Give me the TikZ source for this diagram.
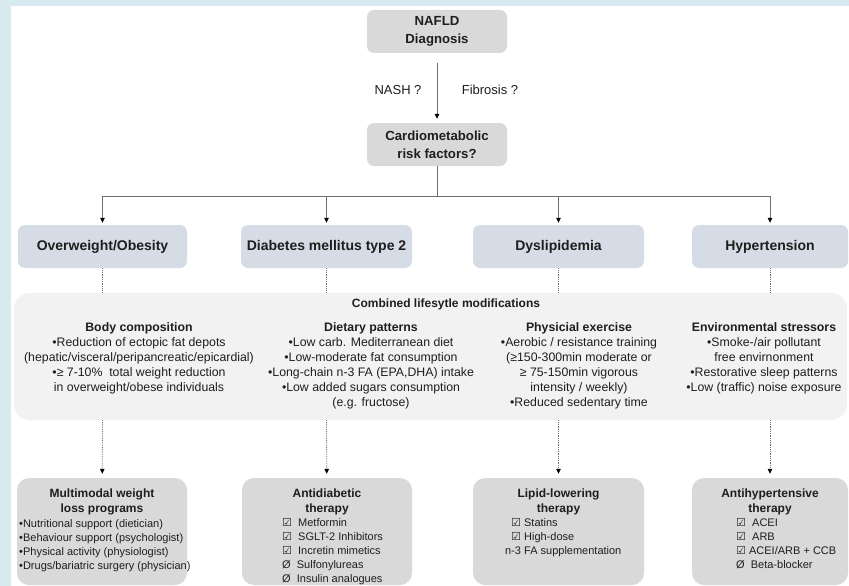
\documentclass[tikz,border=0pt]{standalone}
\usepackage{fontspec}
\setmainfont{Liberation Sans}
\newfontfamily\symfont{DejaVu Sans}
\usetikzlibrary{arrows.meta}
\usetikzlibrary{positioning}
\definecolor{framebg}{HTML}{D6EAF0}
\definecolor{boxgray}{HTML}{D9D9D9}
\definecolor{riskblue}{HTML}{D6DCE5}
\definecolor{lifegray}{HTML}{F2F2F2}
\definecolor{linegray}{HTML}{6E6E6E}
\definecolor{txt}{HTML}{1E1E1E}
\newcommand{\ckbox}{{\symfont\fontsize{11}{12}\selectfont ☑}}
\tikzset{
top box/.style = { rectangle, fill = boxgray, rounded corners = 7pt, minimum width = 140pt, minimum height = 43pt, align = center, text = txt, font = \fontsize{13.2}{18}\selectfont\bfseries },
risk box/.style = { rectangle, fill = riskblue, rounded corners = 7pt, minimum height = 43pt, text = txt, font = \fontsize{14}{17}\selectfont\bfseries },
life box/.style = { rectangle, fill = lifegray, rounded corners = 16pt, minimum width = 833pt, minimum height = 127pt },
therapy box/.style = { rectangle, fill = boxgray, rounded corners = 12pt, minimum height = 107pt },
therapy title/.style = { anchor = north, inner sep = 0pt, align = center, text = txt, font = \fontsize{12}{15}\selectfont\bfseries },
therapy list/.style = { anchor = north west, inner sep = 0pt, align = left, text = txt, font = \fontsize{11}{14}\selectfont },
life col/.style = { anchor = north, inner sep = 0pt, align = center, text = txt, font = \fontsize{12.3}{15}\selectfont },
small label/.style = { text = txt, font = \fontsize{13}{15}\selectfont },
conn/.style = { draw = linegray, line width = 0.8pt, -{Triangle[length = 5pt, width = 4.5pt, color = black]} },
dotline/.style = { draw = linegray, line width = 0.8pt, densely dotted },
dotarrow/.style = { dotline, -{Triangle[length = 5pt, width = 4.5pt, color = black]} },
}

\begin{document}
\begin{tikzpicture}[x = 1pt, y = -1pt]
      % page frame
      \fill[framebg] (0, 0) rectangle (849, 586);
      \fill[white] (11, 6) rectangle (849, 586);
      \useasboundingbox (0, 0) rectangle (849, 586);
      % diagnosis
      \node[top box] (nafld) at (437, 31.5) {NAFLD\\Diagnosis};
      \node[top box] (cardio) at (437, 144.5) {Cardiometabolic\\risk factors?};
      \node[small label] (nash) at (398, 90) {NASH ?};
      \node[small label] (fibrosis) at (490, 90) {Fibrosis ?};
      \draw[conn, shorten <= 10pt, shorten >= 4pt] (nafld) -- (cardio);
      % risk factors
      \node[risk box, minimum width = 169pt] (obesity) at (102.5, 246.5) {Overweight/Obesity};
      \node[risk box, minimum width = 171pt] (diabetes) at (326.5, 246.5) {Diabetes mellitus type 2};
      \node[risk box, minimum width = 171pt] (lipids) at (558.5, 246.5) {Dyslipidemia};
      \node[risk box, minimum width = 156pt] (pressure) at (770, 246.5) {Hypertension};
      \draw[conn, shorten >= 2pt] (cardio.south) -- ++(0, 30) -| (obesity.north);
      \draw[conn, shorten >= 2pt] (cardio.south) -- ++(0, 30) -| (diabetes.north);
      \draw[conn, shorten >= 2pt] (cardio.south) -- ++(0, 30) -| (lipids.north);
      \draw[conn, shorten >= 2pt] (cardio.south) -- ++(0, 30) -| (pressure.north);
      % lifestyle
      \node[life box] (life) at (430.5, 356.5) {};
      \node[anchor = base, text = txt, font = \fontsize{12}{15}\selectfont\bfseries] (combined) at (446, 307.5) {Combined lifesytle modifications};
      \node[life col] (body) at (139, 322) {\textbf{Body composition}\\•Reduction of ectopic fat depots\\(hepatic/visceral/peripancreatic/epicardial)\\•≥ 7-10\%\ \ total weight reduction\\in overweight/obese individuals};
      \node[life col] (diet) at (371, 322) {\textbf{Dietary patterns}\\•Low carb. Mediterranean diet\\•Low-moderate fat consumption\\•Long-chain n-3 FA (EPA,DHA) intake\\•Low added sugars consumption\\(e.g. fructose)};
      \node[life col] (exercise) at (579, 322) {\textbf{Physicial exercise}\\•Aerobic / resistance training\\(≥150-300min moderate or\\≥ 75-150min vigorous\\intensity / weekly)\\•Reduced sedentary time};
      \node[life col] (environment) at (764, 322) {\textbf{Environmental stressors}\\•Smoke-/air pollutant\\free envirnonment\\•Restorative sleep patterns\\•Low (traffic) noise exposure};
      \draw[dotline] (obesity) -- (obesity |- life.north);
      \draw[dotline] (diabetes) -- (diabetes |- life.north);
      \draw[dotline] (lipids) -- (lipids |- life.north);
      \draw[dotline] (pressure) -- (pressure |- life.north);
      % therapies
      \node[therapy box, minimum width = 170pt] (weightloss) at (102, 531.5) {};
      \node[therapy box, minimum width = 170pt] (antidiab) at (327, 531.5) {};
      \node[therapy box, minimum width = 171pt] (lipidlow) at (558.5, 531.5) {};
      \node[therapy box, minimum width = 156pt] (antihyp) at (770, 531.5) {};
      \draw[dotarrow, shorten >= 4pt] (obesity |- life.south) -- (weightloss);
      \draw[dotarrow, shorten >= 4pt] (diabetes |- life.south) -- (antidiab);
      \draw[dotarrow, shorten >= 4pt] (lipids |- life.south) -- (lipidlow);
      \draw[dotarrow, shorten >= 4pt] (pressure |- life.south) -- (antihyp);
      \node[therapy title] (weightloss title) at (102, 489) {Multimodal weight\\loss programs};
      \node[therapy list] (weightloss list) at (19, 519) {•Nutritional support (dietician)\\•Behaviour support (psychologist)\\•Physical activity (physiologist)\\•Drugs/bariatric surgery (physician)};
      \node[therapy title] (antidiab title) at (327, 489) {Antidiabetic\\therapy};
      \node[therapy list] (antidiab list) at (282, 518) {\ckbox\ \ Metformin\\\ckbox\ \ SGLT-2 Inhibitors\\\ckbox\ \ Incretin mimetics\\Ø\ \ Sulfonylureas\\Ø\ \ Insulin analogues};
      \node[therapy title] (lipidlow title) at (558.5, 489) {Lipid-lowering\\therapy};
      \node[therapy list] (lipidlow list) at (505, 518) {\hspace*{6pt}\ckbox\ Statins\\\hspace*{6pt}\ckbox\ High-dose\\n-3 FA supplementation};
      \node[therapy title] (antihyp title) at (770, 489) {Antihypertensive\\therapy};
      \node[therapy list] (antihyp list) at (736, 518) {\ckbox\ \ ACEI\\\ckbox\ \ ARB\\\ckbox\ ACEI/ARB + CCB\\Ø\ \ Beta-blocker};
    \end{tikzpicture}
\end{document}
